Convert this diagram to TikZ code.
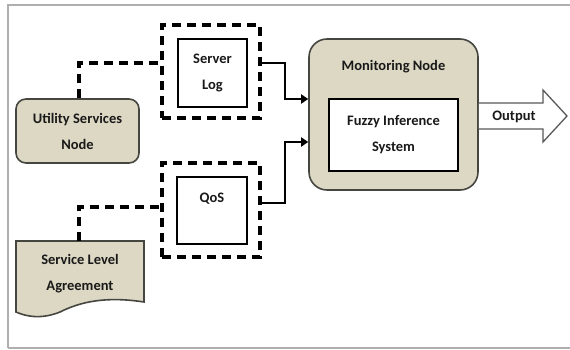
\documentclass[tikz,border=0pt]{standalone}
\usepackage{fontspec}
\setmainfont{Carlito}
\usetikzlibrary{arrows.meta,calc}
\definecolor{tanfill}{RGB}{221,216,195}
\definecolor{edgegray}{RGB}{70,70,65}
\definecolor{framegray}{RGB}{175,175,175}
\definecolor{txt}{RGB}{25,25,25}
\begin{document}
\begin{tikzpicture}[x=1pt,y=-1pt,
  every node/.style={font=\fontsize{14.5}{26}\selectfont\bfseries, text=txt, align=center, inner sep=0pt},
  tannode/.style={draw=edgegray, fill=tanfill, line width=1.6pt},
  innerbox/.style={draw=black, line width=1.1pt, fill=white},
  dashbox/.style={draw=black, line width=3.2pt, dash pattern=on 9pt off 6pt},
  dashline/.style={draw=black, line width=3.2pt, dash pattern=on 9pt off 6pt},
  solidarrow/.style={draw=black, line width=2.8pt, -{Triangle[length=7pt,width=9pt]}},
  outarrow/.style={draw=gray!70!black, line width=1.3pt, fill=white, line join=miter}
]
\useasboundingbox (0,0) rectangle (570,350);
% frame
\draw[framegray, line width=1.5pt] (8,348) -- (8,5) -- (580,5);
\draw[framegray, line width=1.5pt] (8,348) -- (580,348);

% Utility Services Node
\node[tannode, rounded corners=10pt, minimum width=123pt, minimum height=64pt] (USN) at (77.5,131) {Utility Services\\Node};

% Service Level Agreement (document shape)
\draw[tannode] (16,241) -- (144,241) -- (144,302) .. controls (105,296) and (80,302) .. (60,312) .. controls (40,320) and (25,316) .. (16,312) -- cycle;
\node (SLA) at (80,274) {Service Level\\Agreement};
\coordinate (SLAtop) at (79,241);

% Server Log group
\node[dashbox, minimum width=98pt, minimum height=93pt] (SLdash) at (211,71.5) {};
\node[innerbox, minimum width=69pt, minimum height=68pt] (SL) at (212.5,73) {Server\\Log};

% QoS group
\node[dashbox, minimum width=98pt, minimum height=94pt] (Qdash) at (211,210) {};
\node[innerbox, minimum width=70pt, minimum height=67pt] (Q) at (212,210.5) {};
\node (QT) at (212,199) {QoS};

% Monitoring Node
\node[tannode, rounded corners=18pt, minimum width=169pt, minimum height=151pt] (MN) at (393.5,114.5) {};
\node (MNt) at (393.5,67) {Monitoring Node};
\node[innerbox, minimum width=129pt, minimum height=72pt] (FIS) at (393.5,135) {Fuzzy Inference\\System};

% dashed connectors
\draw[dashline] (USN.north -| 79,0) |- ([yshift=8.5pt]SLdash.west);
\draw[dashline] (SLAtop) |- ([yshift=3pt]Qdash.west);

% solid arrows
\draw[solidarrow] ([yshift=8.5pt]SLdash.east) -| (285,99) -- ([yshift=15.5pt]MN.west);
\draw[solidarrow] ([yshift=7pt]Qdash.east) -| (285,142) -- ([yshift=-27.5pt]MN.west);

% output arrow
\draw[outarrow] (MN.east |- 0,103) -- (543,103) -- (543,90) -- (567,116) -- (543,142) -- (543,129) -- (MN.east |- 0,129);
\node (OUT) at (514,117) {Output};
\end{tikzpicture}
\end{document}
